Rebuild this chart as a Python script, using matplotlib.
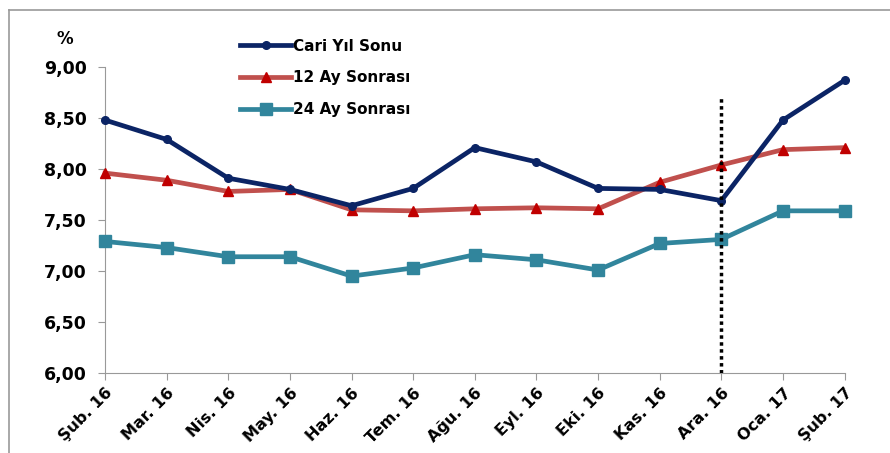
import matplotlib.pyplot as plt
from matplotlib.lines import Line2D

# Data
months = ['Şub. 16', 'Mar. 16', 'Nis. 16', 'May. 16', 'Haz. 16', 'Tem. 16', 'Ağu. 16',
          'Eyl. 16', 'Eki. 16', 'Kas. 16', 'Ara. 16', 'Oca. 17', 'Şub. 17']
cari_yil = [8.48, 8.29, 7.91, 7.80, 7.64, 7.81, 8.21, 8.07, 7.81, 7.80, 7.69, 8.48, 8.87]
ay12 = [7.96, 7.89, 7.78, 7.80, 7.60, 7.59, 7.61, 7.62, 7.61, 7.87, 8.04, 8.19, 8.21]
ay24 = [7.29, 7.23, 7.14, 7.14, 6.95, 7.03, 7.16, 7.11, 7.01, 7.27, 7.31, 7.59, 7.59]
y_ticks = [6.0, 6.5, 7.0, 7.5, 8.0, 8.5, 9.0]
marker_month = 'Ara. 16'

plt.rcParams['font.family'] = 'DejaVu Sans'
plt.rcParams['font.weight'] = 'bold'

fig = plt.figure(figsize=(8.9, 4.53), dpi=100)
ax = fig.add_axes([0.118, 0.1766, 0.831, 0.6754])

x = list(range(len(months)))
ax.plot(x, cari_yil, color='#0b2465', lw=3.4, marker='o', ms=5.5, label='Cari Yıl Sonu', zorder=4)
ax.plot(x, ay12, color='#c0504d', lw=3.4, marker='^', ms=7, mfc='#c00000', mec='#c00000',
        label='12 Ay Sonrası', zorder=3)
ax.plot(x, ay24, color='#31859c', lw=3.4, marker='s', ms=8, label='24 Ay Sonrası', zorder=3)

# vertical dotted separator
ax.vlines(months.index(marker_month), 6.0, 8.7, colors='black', linestyles=(0, (1, 1)), lw=2.5, zorder=5)

ax.set_xlim(0, len(months) - 1)
ax.set_ylim(6.0, 9.0)
ax.set_yticks(y_ticks)
ax.set_yticklabels([f'{v:.2f}'.replace('.', ',') for v in y_ticks], fontsize=12.5, fontweight='bold')
ax.set_xticks(x)
ax.set_xticklabels(months, rotation=45, ha='right', rotation_mode='anchor', fontsize=11.5,
                   fontweight='bold')

for s in ['top', 'right']:
    ax.spines[s].set_visible(False)
ax.spines['left'].set_color('#999999')
ax.spines['bottom'].set_color('#999999')
ax.tick_params(axis='y', direction='out', length=5, color='#999999', pad=8)
ax.tick_params(axis='x', direction='out', length=5, color='#999999', pad=4)
for ln in ax.lines:
    ln.set_clip_on(False)

fig.text(0.073, 0.915, '%', fontsize=12, fontweight='bold', ha='center', va='center')

fig.legend(loc='upper left', bbox_to_anchor=(0.27, 0.915), frameon=False, fontsize=11,
           handlelength=3.3, labelspacing=1.1, handletextpad=0.15, borderpad=0, borderaxespad=0)

# outer frame (top and left edges)
fig.add_artist(Line2D([0.0101, 0.0101], [0, 0.978], color='#999999', lw=1.2, transform=fig.transFigure))
fig.add_artist(Line2D([0.0101, 1.0], [0.978, 0.978], color='#999999', lw=1.2, transform=fig.transFigure))

fig.savefig('out.png', dpi=100)
